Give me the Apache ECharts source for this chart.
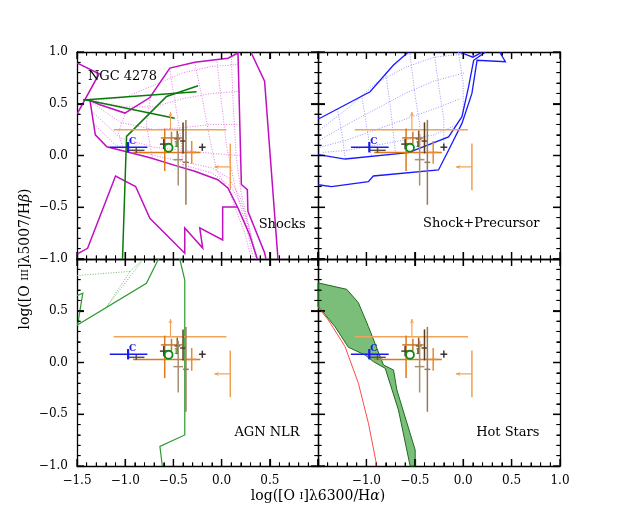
<!DOCTYPE html>
<html>
<head>
<meta charset="utf-8">
<script src="https://cdn.jsdelivr.net/npm/echarts@6/dist/echarts.min.js"></script>
<style>
html,body{margin:0;padding:0;background:#fff;}
#chart{width:623px;height:519px;}
</style>
</head>
<body>
<div id="chart"></div>
<script>
// axis ranges (same in every panel)
const xRange = [-1.5, 1.0];
const yRange = [-1.0, 1.0];

// tick marks on every side of each panel
const xMajor = [-1.5, -1.0, -0.5, 0.0, 0.5, 1.0];
const xMinor = [-1.4, -1.3, -1.2, -1.1, -0.9, -0.8, -0.7, -0.6, -0.4, -0.3, -0.2, -0.1,
                0.1, 0.2, 0.3, 0.4, 0.6, 0.7, 0.8, 0.9];
const yMajor = [-1.0, -0.5, 0.0, 0.5, 1.0];
const yMinor = [-0.9, -0.8, -0.7, -0.6, -0.4, -0.3, -0.2, -0.1,
                0.1, 0.2, 0.3, 0.4, 0.6, 0.7, 0.8, 0.9];

// observed points, drawn in all four panels
const obsX     = [-0.59, -0.52, -0.60, -0.46, -0.45, -0.40, -0.37, -0.31, -0.20, -0.885, -0.97];
const obsY     = [ 0.03,  0.17,  0.11,  0.16, -0.04,  0.14, -0.066, 0.03,  0.08,  0.05,  0.08];
const obsXLo   = [ 0.33,  0.11,  0.04,  0.03,  0.05,  0.03,  0.03, 0.045, 0.035, 0.085, 0.19];
const obsXHi   = [ 0.37,  0.11,  0.04,  0.03,  0.05,  0.03,  0.03, 0.045, 0.035, 0.085, 0.20];
const obsYLo   = [ 0.18,  0.06,  0.05,  0.08,  0.25,  0.12,  0.41, 0.11, 0.035, 0.025, 0.05];
const obsYHi   = [ 0.23,  0.06,  0.05,  0.08,  0.25,  0.18,  0.41, 0.11, 0.035, 0.025, 0.05];
const obsColor = ['#e07818', '#c8782c', '#4a3a30', '#8a5a30', '#a89070', '#5a3c1e',
                  '#9a7858', '#e88a30', '#3a3030', '#5a5050', '#1a1aee'];
const obsLabel = ['', '', '', '', '', '', '', '', '', '', 'C'];

// limits (arrows)
const limX   = [-0.53, 0.09];
const limY   = [ 0.25, -0.11];
const limXLo = [ 0.59, 0];
const limXHi = [ 0.58, 0];
const limYLo = [ 0, 0.225];
const limYHi = [ 0, 0.225];
const limDX  = [ 0, -0.165];
const limDY  = [ 0.17, 0];
const limColor = ['#f0a458', '#f0a050'];

// the circled region
const ringX = [-0.55];
const ringY = [0.075];

// Shocks models
const shockUpper = [[-1.365,0.53],[-1.262,0.49],[-1.003,0.41],[-0.744,0.56],[-0.537,0.845],[-0.278,0.90],
  [0.066,0.94],[0.17,0.99],[0.205,-0.28],[0.267,-0.33],[0.273,-0.54],[0.446,-0.94],[0.46,-1.0]];
const shockLower = [[-1.365,0.53],[-1.31,0.20],[-1.19,0.085],[-0.75,-0.02],[-0.434,-0.11],[-0.278,-0.153],
  [-0.04,-0.234],[0.066,-0.314],[0.17,-0.507],[0.29,-0.765],[0.36,-0.97],[0.37,-1.0]];
const shockV = [[-1.5,0.895],[-1.27,0.79],[-1.5,0.40]];
const shockFar = [[0.303,1.0],[0.446,0.717],[0.584,-0.99],[0.585,-1.0]];
const shockZig = [[-1.5,-0.955],[-1.487,-0.945],[-1.39,-0.897],[-1.10,-0.198],[-0.892,-0.30],[-0.744,-0.607],
  [-0.382,-0.945],[-0.382,-0.70],[-0.196,-0.894],[-0.227,-0.70],[0.011,-0.816],[0.011,-0.498],[0.167,-0.498]];
const shockGrid = [
  [[-1.36,0.53],[-1.0,0.56],[-0.7,0.68],[-0.4,0.80],[-0.1,0.86],[0.18,0.88]],
  [[-1.36,0.53],[-1.0,0.47],[-0.7,0.47],[-0.4,0.55],[-0.1,0.60],[0.19,0.62]],
  [[-1.36,0.52],[-1.05,0.32],[-0.7,0.25],[-0.4,0.27],[-0.1,0.30],[0.19,0.30]],
  [[-1.34,0.42],[-1.05,0.17],[-0.7,0.08],[-0.4,0.05],[-0.1,0.02],[0.19,0.0]],
  [[-1.32,0.30],[-1.1,0.10],[-0.7,0.0],[-0.4,-0.06],[-0.1,-0.12],[0.08,-0.22],[0.2,-0.42],[0.30,-0.75],[0.355,-1.0]],
  [[-0.4,-0.09],[-0.1,-0.17],[0.1,-0.30],[0.22,-0.50],[0.32,-0.85],[0.365,-1.0]],
  [[-1.0,0.41],[-1.07,0.22],[-1.02,0.06]],
  [[-0.74,0.56],[-0.78,0.30],[-0.72,-0.02]],
  [[-0.54,0.84],[-0.48,0.5],[-0.42,0.15],[-0.40,-0.12]],
  [[-0.28,0.90],[-0.2,0.55],[-0.12,0.15],[-0.05,-0.15],[0.08,-0.35],[0.24,-0.75],[0.31,-1.0]],
  [[-0.05,0.93],[0.0,0.5],[0.05,0.1],[0.14,-0.3],[0.26,-0.7],[0.33,-1.0]],
  [[0.10,0.96],[0.12,0.5],[0.15,0.0],[0.20,-0.35],[0.30,-0.75],[0.375,-1.0]]
];
const shockGreen = [
  [[-1.435,0.536],[-0.26,0.616]],
  [[-1.435,0.54],[-1.365,0.53],[-0.486,0.36]],
  [[-1.028,-1.0],[-0.986,0.185],[-0.571,0.57],[-0.244,0.674]]
];

// Shock+Precursor models
const precUpper = [[-1.5,0.355],[-1.48,0.36],[-0.962,0.616],[-0.72,0.874],[-0.58,0.987],[-0.565,1.0]];
const precInner = [[-1.5,0.005],[-1.48,0.005],[-1.22,-0.034],[-0.565,0.027],[-0.151,0.18],[-0.013,0.375],
  [0.056,0.665],[0.108,0.92],[0.21,0.987],[0.23,1.0]];
const precOuter = [[-1.5,-0.283],[-1.48,-0.285],[-1.36,-0.30],[-0.98,-0.253],[-0.928,-0.198],[-0.255,-0.14],
  [-0.15,0.053],[-0.013,0.31],[0.09,0.60],[0.143,0.92],[0.436,0.906],[0.384,0.987],[0.38,1.0]];
const precTop = [[-0.04,1.0],[0.1,0.95],[0.2,1.0]];
const precGrid = [
  [[-1.48,0.25],[-1.2,0.45],[-0.9,0.7],[-0.6,0.85],[-0.3,0.95],[0.0,0.98]],
  [[-1.48,0.15],[-1.2,0.3],[-0.9,0.45],[-0.6,0.6],[-0.3,0.72],[0.02,0.8]],
  [[-1.48,0.08],[-1.2,0.15],[-0.9,0.25],[-0.6,0.35],[-0.3,0.45],[-0.03,0.55]],
  [[-1.45,0.03],[-1.2,0.05],[-0.9,0.1],[-0.6,0.15],[-0.3,0.2],[-0.06,0.3]],
  [[-1.3,0.45],[-1.25,0.2],[-1.22,-0.03]],
  [[-1.05,0.58],[-1.0,0.3],[-0.95,0.0]],
  [[-0.8,0.8],[-0.75,0.45],[-0.7,0.03]],
  [[-0.55,0.98],[-0.5,0.6],[-0.45,0.3],[-0.45,0.05]],
  [[-0.3,1.0],[-0.25,0.65],[-0.2,0.35],[-0.2,0.12]],
  [[-0.05,1.0],[0.0,0.7],[0.0,0.4]]
];

// AGN NLR models
const nlrMain = [[-0.434,1.0],[-0.382,0.797],[-0.382,-0.70],[-0.64,-0.81],[-0.615,-1.0]];
const nlrThin = [[-1.5,0.36],[-0.78,0.765],[-0.66,0.99],[-0.655,1.0]];
const nlrSmall = [[-1.5,0.645],[-1.44,0.67],[-1.49,0.38],[-1.5,0.36]];
const nlrGrid = [
  [[-1.5,0.84],[-0.95,0.88],[-1.19,0.54]],
  [[-1.19,0.54],[-0.85,0.95],[-0.82,1.0]],
  [[-0.95,0.88],[-0.81,1.0]]
];

// Hot Stars models
const hotUpper = [[-1.5,0.77],[-1.479,0.765],[-1.203,0.707],[-1.083,0.578],[-0.979,0.346],[-0.824,-0.024],
  [-0.72,-0.072],[-0.685,-0.266],[-0.496,-0.845],[-0.496,-1.0]];
const hotLower = [[-0.548,-1.0],[-0.669,-0.459],[-0.806,-0.056],[-0.927,0.008],[-1.013,0.072],[-1.186,0.147],
  [-1.324,0.346],[-1.479,0.523],[-1.5,0.54]];
const hotRed = [[-1.5,0.535],[-1.393,0.41],[-1.22,0.153],[-1.083,-0.20],[-0.979,-0.587],[-0.892,-1.0]];

// panel captions
const capText  = ['NGC 4278', 'Shocks', 'Shock+Precursor', 'AGN NLR', 'Hot Stars'];
const capPanel = [0, 0, 1, 2, 3];
const capX     = [-1.386, 0.871, 0.788, 0.808, 0.788];
const capY     = [0.758, -0.672, -0.662, -0.681, -0.681];
const capAlign = ['left', 'right', 'right', 'right', 'right'];

const FONT = 'DejaVu Serif';
const grids = [
  {left: 77, top: 52, width: 241, height: 207},
  {left: 318, top: 52, width: 242, height: 207},
  {left: 77, top: 259, width: 241, height: 207},
  {left: 318, top: 259, width: 242, height: 207}
];

const fmt = v => (v < 0 ? '\u2212' : '') + Math.abs(v).toFixed(1);

function axis(gi, pos, range, showLabel, hideMin, hideMax) {
  const a = {
    type: 'value', gridIndex: gi, position: pos,
    min: range[0], max: range[1], interval: 0.5,
    axisLine: {show: true, onZero: false, lineStyle: {color: '#000', width: 1.3}},
    axisTick: {show: true, inside: true, length: 7, lineStyle: {color: '#000', width: 1.2}},
    minorTick: {show: true, splitNumber: 5, length: 3.5, lineStyle: {color: '#000', width: 1}},
    splitLine: {show: false},
    axisLabel: {show: showLabel, fontFamily: FONT, fontSize: 12, color: '#000', margin: 9, formatter: fmt}
  };
  if (hideMin) a.axisLabel.showMinLabel = false;
  if (hideMax) a.axisLabel.showMaxLabel = false;
  return a;
}

const xAxes = [
  axis(0, 'bottom', xRange, false), axis(1, 'bottom', xRange, false),
  axis(2, 'bottom', xRange, true, false, true), axis(3, 'bottom', xRange, true, true, false),
  axis(0, 'top', xRange, false), axis(1, 'top', xRange, false),
  axis(2, 'top', xRange, false), axis(3, 'top', xRange, false)
];
const yAxes = [
  axis(0, 'left', yRange, true), axis(1, 'left', yRange, false),
  axis(2, 'left', yRange, true, false, true), axis(3, 'left', yRange, false),
  axis(0, 'right', yRange, false), axis(1, 'right', yRange, false),
  axis(2, 'right', yRange, false), axis(3, 'right', yRange, false)
];

// model curves as polylines through the panel scales
function polySeries(gi, lines, color, width, dotted) {
  return {
    type: 'custom', xAxisIndex: gi, yAxisIndex: gi, clip: true,
    data: lines.map(l => [l[0][0], l[0][1]]),
    encode: {x: 0, y: 1},
    renderItem: function (params, api) {
      const pts = lines[params.dataIndex].map(p => api.coord(p));
      return {type: 'polyline', shape: {points: pts},
        style: {stroke: color, lineWidth: width, fill: null, lineDash: dotted ? [1, 1.6] : null}};
    }
  };
}

// inward ticks on all four sides, placed through the panel scales
function tickSeries(gi) {
  return {
    type: 'custom', xAxisIndex: gi, yAxisIndex: gi, z: 10,
    data: [[-0.25, 0]], encode: {x: 0, y: 1},
    renderItem: function (params, api) {
      const kids = [];
      const add = (p, dx, dy, w) => kids.push({type: 'line',
        shape: {x1: p[0], y1: p[1], x2: p[0] + dx, y2: p[1] + dy},
        style: {stroke: '#000', lineWidth: w}});
      [[xMajor, yMajor, 7, 1.3], [xMinor, yMinor, 3.5, 1]].forEach(function (set) {
        const xs = set[0], ys = set[1], len = set[2], w = set[3];
        xs.forEach(function (x) {
          add(api.coord([x, yRange[0]]), 0, -len, w);
          add(api.coord([x, yRange[1]]), 0, len, w);
        });
        ys.forEach(function (y) {
          add(api.coord([xRange[0], y]), len, 0, w);
          add(api.coord([xRange[1], y]), -len, 0, w);
        });
      });
      return {type: 'group', children: kids};
    }
  };
}

function obsSeries(gi) {
  return {
    type: 'custom', xAxisIndex: gi, yAxisIndex: gi,
    data: obsX.map((x, i) => [x, obsY[i]]),
    encode: {x: 0, y: 1},
    renderItem: function (params, api) {
      const i = params.dataIndex;
      const l = api.coord([obsX[i] - obsXLo[i], obsY[i]]);
      const r = api.coord([obsX[i] + obsXHi[i], obsY[i]]);
      const b = api.coord([obsX[i], obsY[i] - obsYLo[i]]);
      const t = api.coord([obsX[i], obsY[i] + obsYHi[i]]);
      const c = api.coord([obsX[i], obsY[i]]);
      const blue = obsLabel[i] === 'C';
      const kids = [
        {type: 'line', shape: {x1: l[0], y1: l[1], x2: r[0], y2: r[1]}, style: {stroke: obsColor[i], lineWidth: 1.5}},
        {type: 'line', shape: {x1: b[0], y1: b[1], x2: t[0], y2: t[1]}, style: {stroke: obsColor[i], lineWidth: blue ? 2.2 : 1.5}}
      ];
      if (obsLabel[i]) {
        kids.push({type: 'text', x: c[0] + 1, y: c[1] - 1,
          style: {text: obsLabel[i], fill: obsColor[i], font: 'bold 9px ' + FONT, verticalAlign: 'bottom'}});
      }
      return {type: 'group', children: kids};
    }
  };
}

function limSeries(gi) {
  return {
    type: 'custom', xAxisIndex: gi, yAxisIndex: gi,
    data: limX.map((x, i) => [x, limY[i]]),
    encode: {x: 0, y: 1},
    renderItem: function (params, api) {
      const i = params.dataIndex;
      const st = {stroke: limColor[i], lineWidth: 1.5};
      const kids = [];
      if (limXLo[i] || limXHi[i]) {
        const l = api.coord([limX[i] - limXLo[i], limY[i]]);
        const r = api.coord([limX[i] + limXHi[i], limY[i]]);
        kids.push({type: 'line', shape: {x1: l[0], y1: l[1], x2: r[0], y2: r[1]}, style: st});
      }
      if (limYLo[i] || limYHi[i]) {
        const b = api.coord([limX[i], limY[i] - limYLo[i]]);
        const t = api.coord([limX[i], limY[i] + limYHi[i]]);
        kids.push({type: 'line', shape: {x1: b[0], y1: b[1], x2: t[0], y2: t[1]}, style: st});
      }
      const s = api.coord([limX[i], limY[i]]);
      const e = api.coord([limX[i] + limDX[i], limY[i] + limDY[i]]);
      kids.push({type: 'line', shape: {x1: s[0], y1: s[1], x2: e[0], y2: e[1]}, style: {stroke: limColor[i], lineWidth: 1.2}});
      const ang = Math.atan2(e[1] - s[1], e[0] - s[0]);
      const h = 5, w = 0.45;
      kids.push({type: 'polygon', shape: {points: [
        [e[0], e[1]],
        [e[0] - h * Math.cos(ang - w), e[1] - h * Math.sin(ang - w)],
        [e[0] - h * 0.6 * Math.cos(ang), e[1] - h * 0.6 * Math.sin(ang)],
        [e[0] - h * Math.cos(ang + w), e[1] - h * Math.sin(ang + w)]
      ]}, style: {fill: limColor[i]}});
      return {type: 'group', children: kids};
    }
  };
}

function ringSeries(gi) {
  return {
    type: 'custom', xAxisIndex: gi, yAxisIndex: gi,
    data: ringX.map((x, i) => [x, ringY[i]]), encode: {x: 0, y: 1},
    renderItem: function (params, api) {
      const c = api.coord([ringX[params.dataIndex], ringY[params.dataIndex]]);
      return {type: 'group', children: [
        {type: 'circle', shape: {cx: c[0], cy: c[1], r: 4}, style: {fill: null, stroke: '#108a10', lineWidth: 1.8}},
        {type: 'text', x: c[0] + 5, y: c[1] + 1,
          style: {text: '1', fill: '#108a10', font: '8px ' + FONT, verticalAlign: 'bottom'}}
      ]};
    }
  };
}

// captions and axis titles, anchored on the panel scales
function textSeries(gi) {
  const idx = capPanel.map((p, i) => p === gi ? i : -1).filter(i => i >= 0);
  return {
    type: 'custom', xAxisIndex: gi, yAxisIndex: gi,
    data: [[xRange[0], yRange[0]]], encode: {x: 0, y: 1},
    renderItem: function (params, api) {
      const kids = idx.map(i => {
        const p = api.coord([capX[i], capY[i]]);
        return {type: 'text', x: p[0], y: p[1],
          style: {text: capText[i], fill: '#000', font: '13px ' + FONT, align: capAlign[i], verticalAlign: 'middle'}};
      });
      const rich = {
        n: {fontFamily: FONT, fontSize: 14, color: '#000'},
        s: {fontFamily: FONT, fontSize: 10, color: '#000'},
        i: {fontFamily: FONT, fontSize: 14, fontStyle: 'italic', color: '#000'}
      };
      if (gi === 2) {
        const p = api.coord([xRange[1], yRange[0]]);
        kids.push({type: 'text', x: p[0], y: p[1] + 30,
          style: {text: '{n|log([O }{s|I}{n|]\u03bb6300/H}{i|\u03b1}{n|)}', rich: rich,
            align: 'center', verticalAlign: 'middle', fill: '#000'}});
      }
      if (gi === 0) {
        const p = api.coord([xRange[0], yRange[0]]);
        kids.push({type: 'text', x: p[0] - 52, y: p[1], rotation: Math.PI / 2,
          style: {text: '{n|log([O }{s|III}{n|]\u03bb5007/H}{i|\u03b2}{n|)}', rich: rich,
            align: 'center', verticalAlign: 'middle', fill: '#000'}});
      }
      return {type: 'group', children: kids};
    }
  };
}

const series = [];
// Shocks
series.push(polySeries(0, shockGrid, '#e070e0', 0.9, true));
series.push(polySeries(0, [shockUpper, shockLower, shockV, shockFar, shockZig], '#c010c0', 1.5));
series.push(polySeries(0, shockGreen, '#0a7a0a', 1.5));
// Shock+Precursor
series.push(polySeries(1, precGrid, '#8c8cff', 0.9, true));
series.push(polySeries(1, [precUpper, precInner, precOuter, precTop], '#1a1aff', 1.3));
// AGN NLR
series.push(polySeries(2, nlrGrid, '#5ab55a', 0.9, true));
series.push(polySeries(2, [nlrMain, nlrThin, nlrSmall], '#2e9a2e', 1.2));
// Hot Stars
series.push({
  type: 'custom', xAxisIndex: 3, yAxisIndex: 3,
  data: [[hotUpper[0][0], hotUpper[0][1]]], encode: {x: 0, y: 1},
  renderItem: function (params, api) {
    const pts = hotUpper.concat(hotLower).map(p => api.coord(p));
    return {type: 'polygon', shape: {points: pts},
      style: {fill: 'rgba(40,150,40,0.62)', stroke: '#1d6b1d', lineWidth: 1}};
  }
});
series.push(polySeries(3, [hotRed], '#ff4a4a', 1));

for (let g = 0; g < 4; g++) {
  series.push(limSeries(g));
  series.push(obsSeries(g));
  series.push(ringSeries(g));
  series.push(textSeries(g));
  series.push(tickSeries(g));
}

const option = {
  animation: false,
  grid: grids,
  xAxis: xAxes,
  yAxis: yAxes,
  series: series
};

const chart = echarts.init(document.getElementById('chart'));
chart.setOption(option);
</script>
</body>
</html>
